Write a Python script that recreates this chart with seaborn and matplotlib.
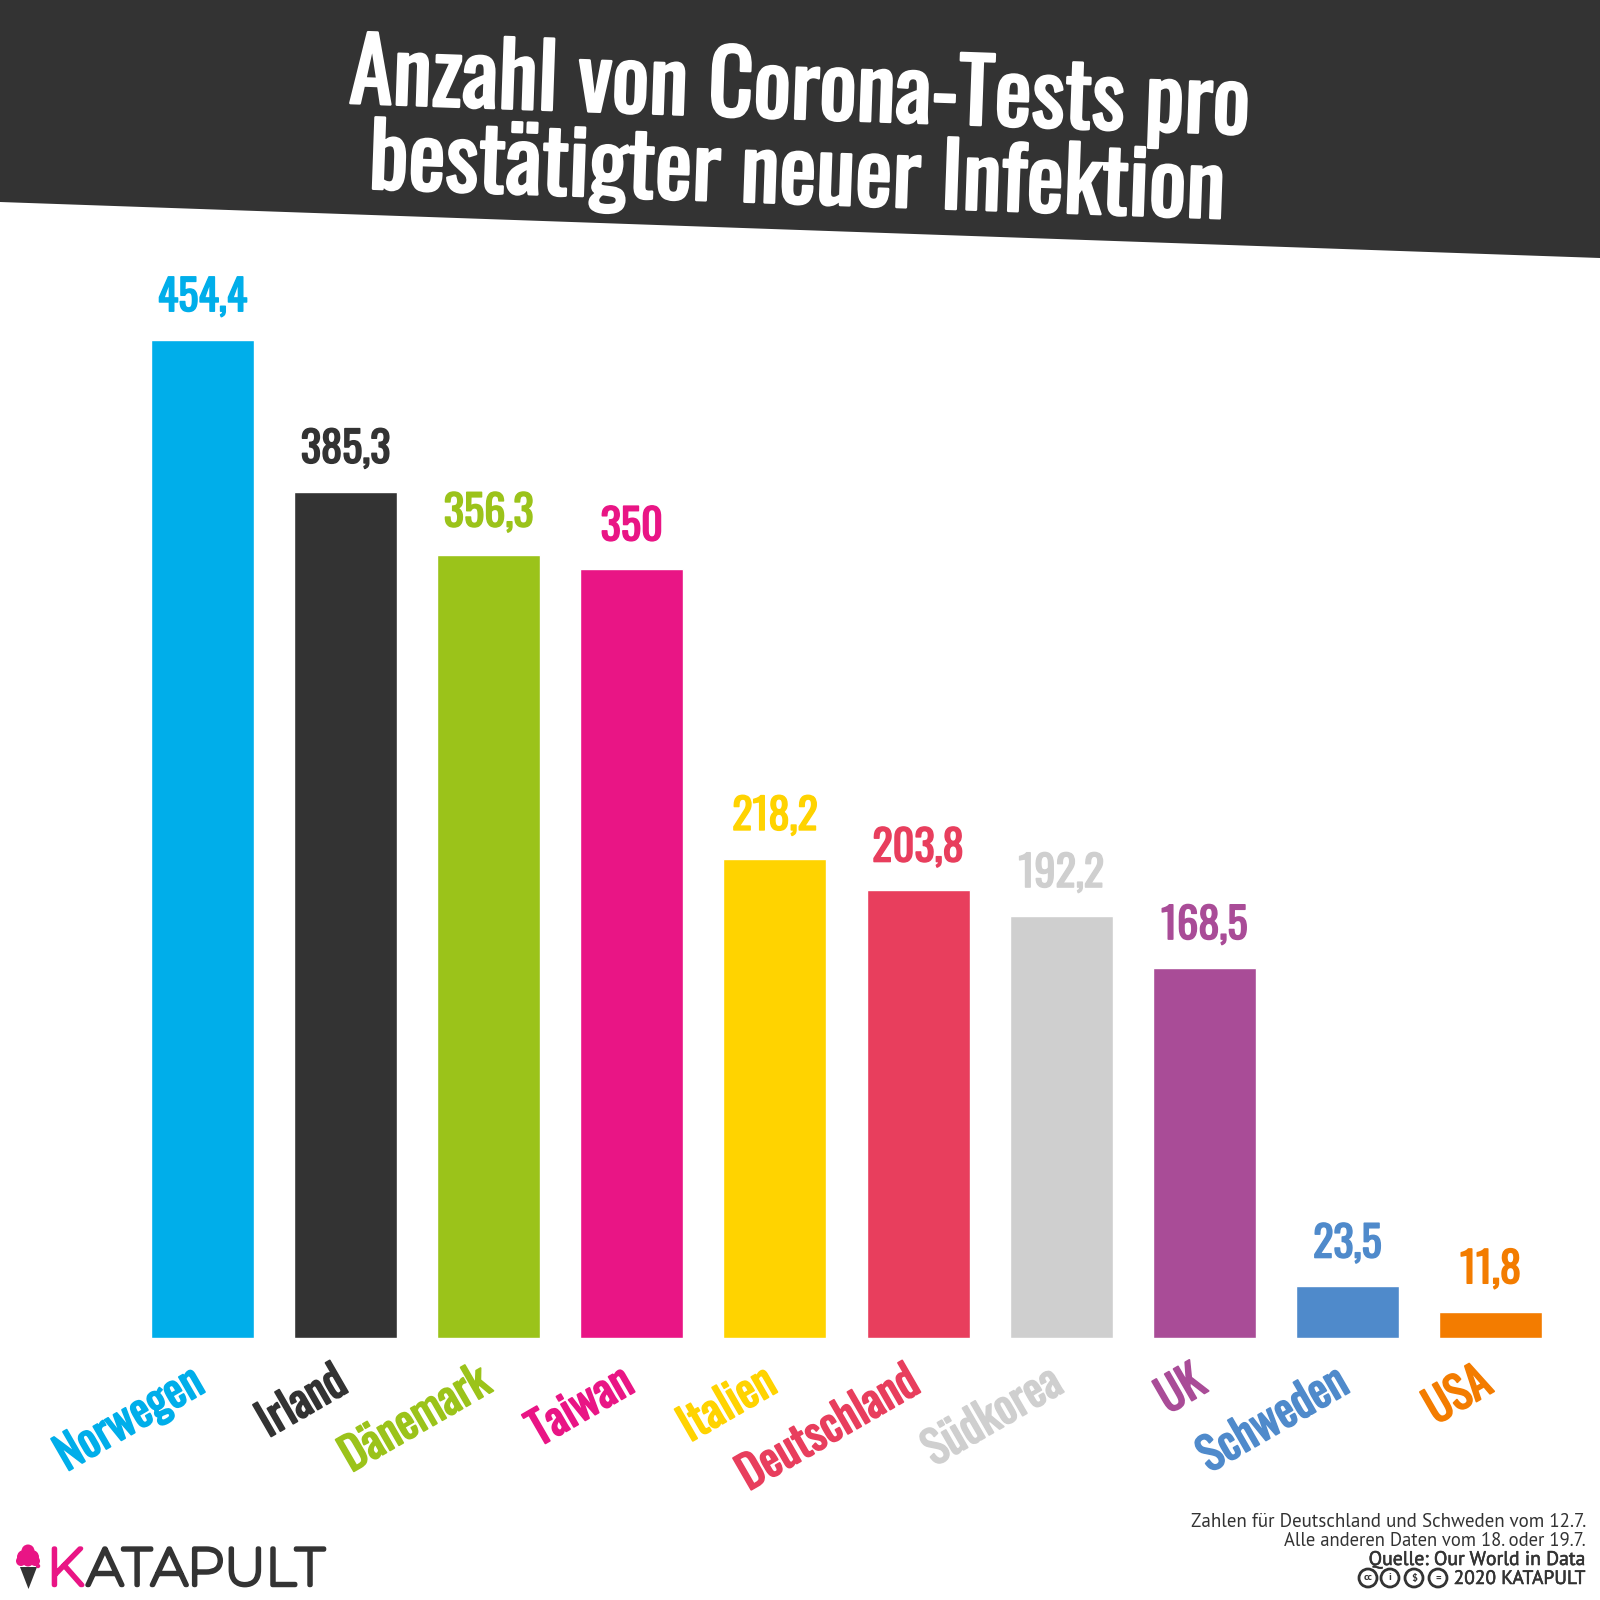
import matplotlib
matplotlib.use("Agg")
import matplotlib.pyplot as plt
import seaborn as sns
from matplotlib import patheffects as pe
from matplotlib.patches import Polygon, Circle
from matplotlib.transforms import ScaledTranslation

# Werte
countries = ["Norwegen", "Irland", "Dänemark", "Taiwan", "Italien",
             "Deutschland", "Südkorea", "UK", "Schweden", "USA"]
tests = [454.4, 385.3, 356.3, 350, 218.2, 203.8, 192.2, 168.5, 23.5, 11.8]
colors = ["#00AEEA", "#333333", "#9BC31A", "#E91585", "#FFD300",
          "#E83E5D", "#CFCFCF", "#A94C97", "#4F8ACB", "#F37C00"]
title_lines = ["Anzahl von Corona-Tests pro", "bestätigter neuer Infektion"]
notes = ["Zahlen für Deutschland und Schweden vom 12.7.",
         "Alle anderen Daten vom 18. oder 19.7."]
source = "Quelle: Our World in Data"
copyright_text = "2020 KATAPULT"

DARK = "#333333"
NARROW = ["Oswald", "Fjalla One", "Roboto", "DejaVu Sans"]
FOOT = ["PT Sans", "Open Sans", "DejaVu Sans"]
LOGO = ["Montserrat", "Open Sans", "DejaVu Sans"]


def fat(width, color):
    # Oswald/Montserrat kommen nur duenn, Kontur in Textfarbe macht sie fett
    return [pe.withStroke(linewidth=width, foreground=color)]


sns.set_theme(style="white")
fig = plt.figure(figsize=(16, 16), dpi=100, facecolor="white")

# Hintergrund-Ebene in Pixeln (Kopfband, Titel, Logo, Fussnote)
bg = fig.add_axes([0, 0, 1, 1])
bg.set_xlim(0, 1600)
bg.set_ylim(1600, 0)
bg.axis("off")
bg.add_patch(Polygon([(0, 0), (1600, 0), (1600, 258), (0, 202)], color=DARK, lw=0))
bg.text(800, 91, title_lines[0], color="white", family=NARROW, fontsize=63.5,
        rotation=-2, rotation_mode="anchor", ha="center", va="center",
        path_effects=fat(1.8, "white"))
bg.text(797, 176, title_lines[1], color="white", family=NARROW, fontsize=63.5,
        rotation=-2, rotation_mode="anchor", ha="center", va="center",
        path_effects=fat(1.8, "white"))

# Balken
left, right = 151 / 1600, 1542 / 1600
top, bottom = 1 - 340 / 1600, 1 - 1338 / 1600
ax = fig.add_axes([left, bottom, right - left, top - bottom])
ax.patch.set_alpha(0)
sns.barplot(x=countries, y=tests, hue=countries, palette=colors, width=0.72,
            legend=False, saturation=1, ax=ax)
ax.set_xlim(-0.36, 9.36)
ax.set_ylim(0, 454.4)
sns.despine(ax=ax, left=True, bottom=True)
ax.set_yticks([])
ax.grid(False)

for bars, value, color in zip(ax.containers, tests, colors):
    label = f"{value:g}".replace(".", ",")
    ax.bar_label(bars, labels=[label], padding=15, color=color, family=NARROW,
                 fontsize=30.5, path_effects=fat(1.1, color))

ax.set_xticks(range(len(countries)))
ax.set_xticklabels(countries, rotation=30, ha="right", rotation_mode="anchor",
                   family=NARROW, fontsize=32.5)
ax.tick_params(axis="x", length=0, pad=15)
shift = ScaledTranslation(-14 / 100, 0, fig.dpi_scale_trans)
for tick, color in zip(ax.get_xticklabels(), colors):
    tick.set_color(color)
    tick.set_path_effects(fat(1.3, color))
    tick.set_transform(tick.get_transform() + shift)

# Logo
bg.add_patch(Polygon([(20, 1567), (37, 1567), (28.5, 1589)], color=DARK, lw=0))
for x, y, r in [(28, 1551, 6.5), (24, 1557, 7), (32, 1557, 7), (21, 1561, 5),
                (35, 1561, 5), (28, 1561, 5.5), (38, 1566, 2.2)]:
    bg.add_patch(Circle((x, y), r, color="#E91585", lw=0))
bg.text(47, 1585, "K", color="#E91585", family=LOGO, fontsize=37.5, ha="left",
        va="baseline", path_effects=fat(3.2, "#E91585"))
bg.text(87, 1585, "ATAPULT", color=DARK, family=LOGO, fontsize=37.5, ha="left",
        va="baseline", path_effects=fat(3.2, DARK))

# Fussnote
bg.text(1586, 1527, notes[0], color=DARK, family=FOOT, fontsize=13.7, ha="right", va="baseline")
bg.text(1586, 1546, notes[1], color=DARK, family=FOOT, fontsize=13.4, ha="right", va="baseline")
bg.text(1586, 1565, source, color=DARK, family=FOOT, fontsize=14.2, ha="right",
        va="baseline", path_effects=fat(0.4, DARK))
bg.text(1586, 1584, copyright_text, color=DARK, family=FOOT, fontsize=14, ha="right",
        va="baseline", path_effects=fat(0.4, DARK))
for cx, sym in zip([1368, 1390, 1414, 1438], ["cc", "i", "$", "="]):
    bg.add_patch(Circle((cx, 1578), 9, fill=False, ec=DARK, lw=2))
    bg.text(cx, 1578, sym, color=DARK, family=FOOT, weight="bold", fontsize=7.5,
            ha="center", va="center")

fig.savefig("out.png", dpi=100)
